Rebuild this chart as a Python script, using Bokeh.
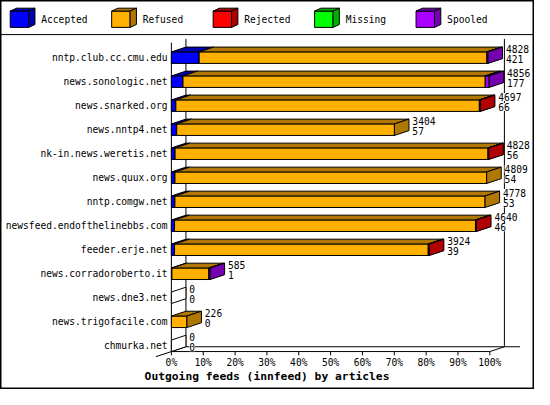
from bokeh.plotting import figure
from bokeh.models import Range1d, Span
from bokeh.embed import file_html
from bokeh.resources import INLINE
from bokeh.core.properties import value

# ---------------- data ----------------
hosts = ["nntp.club.cc.cmu.edu", "news.sonologic.net", "news.snarked.org", "news.nntp4.net",
         "nk-in.news.weretis.net", "news.quux.org", "nntp.comgw.net",
         "newsfeed.endofthelinebbs.com", "feeder.erje.net", "news.corradoroberto.it",
         "news.dne3.net", "news.trigofacile.com", "chmurka.net"]
offered = [4828, 4856, 4697, 3404, 4828, 4809, 4778, 4640, 3924, 585, 0, 226, 0]
accepted = [421, 177, 66, 57, 56, 54, 53, 46, 39, 1, 0, 0, 0]
refused = [4364, 4610, 4477, 2327, 4746, 4707, 4653, 4385, 3127, 68, 0, 11, 0]
rejected = [0, 0, 14, 0, 10, 0, 0, 14, 12, 0, 0, 0, 0]
missing = [0, 0, 0, 0, 0, 0, 0, 0, 0, 0, 0, 0, 0]
spooled = [14, 58, 0, 0, 0, 0, 0, 0, 0, 2, 0, 0, 0]
series_names = ["Accepted", "Refused", "Rejected", "Missing", "Spooled"]
tick_values = [0, 10, 20, 30, 40, 50, 60, 70, 80, 90, 100]
tick_labels = ["0%", "10%", "20%", "30%", "40%", "50%", "60%", "70%", "80%", "90%", "100%"]
title_text = "Outgoing feeds (innfeed) by articles"

front_colors = ["#0000FF", "#FFB000", "#FF0000", "#00FF00", "#AA00FF"]
dark_colors = ["#0000B0", "#B07800", "#B00000", "#00B000", "#7400B0"]

# ---------------- layout (reference pixel geometry) ----------------
W_REF, H_REF = 550, 405
W, H = 534, 389
X0_PX, PX_PER_PCT = 176.0, 3.28
ROW0_PX, ROW_PX = 59.5, 25.0


def X(px):
    return (px - X0_PX) / PX_PER_PCT


def Y(py):
    return (py - ROW0_PX) / ROW_PX


DX = 15 / PX_PER_PCT
DY = 5 / ROW_PX
HALF = 6 / ROW_PX
FONT = value("DejaVu Sans Mono")
FS = value("9.6px")

p = figure(width=W, height=H, output_backend="svg", toolbar_location=None,
           x_range=Range1d(X(0), X(W_REF)), y_range=Range1d(Y(H_REF), Y(0)),
           x_axis_type=None, y_axis_type=None, min_border=0)
p.grid.visible = False
p.outline_line_color = "black"
p.outline_line_width = 2
p.background_fill_color = "white"
p.border_fill_color = "white"

# legend separator
p.add_layout(Span(location=Y(35.5), dimension="width", line_color="black", line_width=1))

# ---------------- legend (3D cubes) ----------------
lx, ly = [], []
lcol = []
for k in range(len(series_names)):
    x0 = 10 + 104.5 * k
    x1 = x0 + 19
    yt, yb = 11, 28
    d, e = 6.5, 3
    lx += [[X(x0), X(x1), X(x1), X(x0)],
           [X(x0), X(x0 + d), X(x1 + d), X(x1)],
           [X(x1), X(x1 + d), X(x1 + d), X(x1)]]
    ly += [[Y(yt), Y(yt), Y(yb), Y(yb)],
           [Y(yt), Y(yt - e), Y(yt - e), Y(yt)],
           [Y(yt), Y(yt - e), Y(yb - e), Y(yb)]]
    lcol += [front_colors[k], dark_colors[k], dark_colors[k]]
p.patches(lx, ly, fill_color=lcol, line_color="black", line_width=1)
p.text(x=[X(42 + 104.5 * k) for k in range(len(series_names))], y=[Y(20)] * len(series_names),
       text=series_names, text_font=FONT, text_font_size=FS,
       text_align="left", text_baseline="middle", text_color="black")

# ---------------- frame / walls ----------------
n = len(hosts)
last = n - 1
top_back = Y(40)
top_front = Y(44)
floor_front = last + HALF
floor_back = floor_front - DY
# back vertical walls, front left axis, floors
p.segment(x0=[DX, 100 + DX, 0, DX, 0],
          y0=[top_back, top_back, top_front, floor_back, floor_front],
          x1=[DX, 100 + DX, 0, X(535), 100],
          y1=[floor_back, floor_back, floor_front, floor_back, floor_front],
          line_color="black", line_width=1)
# floor side edges
p.segment(x0=[X(160), 100], y0=[floor_front + (16 / 15) * DY, floor_front],
          x1=[DX, 100 + DX], y1=[floor_back, floor_back], line_color="black", line_width=1)
# ticks
p.segment(x0=tick_values, y0=[floor_front] * len(tick_values),
          x1=tick_values, y1=[floor_front + 4 / ROW_PX] * len(tick_values),
          line_color="black", line_width=1)
p.text(x=tick_values, y=[Y(377)] * len(tick_values), text=tick_labels,
       text_font=FONT, text_font_size=FS, text_align="center", text_baseline="middle",
       text_color="black")

# ---------------- bars ----------------
series = [accepted, refused, rejected, missing, spooled]
bx, by, bcol = [], [], []
ends = []
for i in range(n):
    t, b = i - HALF, i + HALF
    cum = 0.0
    drawn = False
    for s in range(len(series)):
        cnt = series[s][i]
        if offered[i] == 0 or cnt == 0:
            continue
        x0 = cum
        x1 = cum + cnt / offered[i] * 100.0
        cum = x1
        bx += [[x0, x1, x1, x0],
               [x0, x0 + DX, x1 + DX, x1],
               [x1, x1 + DX, x1 + DX, x1]]
        by += [[t, t, b, b],
               [t, t - DY, t - DY, t],
               [t, t - DY, b - DY, b]]
        bcol += [front_colors[s], dark_colors[s], dark_colors[s]]
        drawn = True
    if not drawn:
        bx.append([0, DX, DX, 0])
        by.append([t, t - DY, b - DY, b])
        bcol.append("white")
    ends.append(cum)
p.patches(bx, by, fill_color=bcol, line_color="black", line_width=1)

# category labels
p.text(x=[X(172)] * n, y=list(range(n)), text=hosts, text_font=FONT, text_font_size=FS,
       text_align="right", text_baseline="middle", text_color="black")

# value labels (offered / accepted)
lab_x = [e + DX + 3.5 / PX_PER_PCT for e in ends]
p.text(x=lab_x, y=[i - 9 / ROW_PX for i in range(n)], text=[str(v) for v in offered],
       text_font=FONT, text_font_size=FS, text_align="left", text_baseline="middle",
       text_color="black", background_fill_color="white")
p.text(x=lab_x, y=[i + 1.5 / ROW_PX for i in range(n)], text=[str(v) for v in accepted],
       text_font=FONT, text_font_size=FS, text_align="left", text_baseline="middle",
       text_color="black", background_fill_color="white")

# title
p.text(x=[X(274.5)], y=[Y(391.5)], text=[title_text], text_font=FONT,
       text_font_size=value("11.3px"), text_font_style="bold", text_align="center",
       text_baseline="middle", text_color="black")

open("out.html", "w").write(file_html(p, INLINE))
